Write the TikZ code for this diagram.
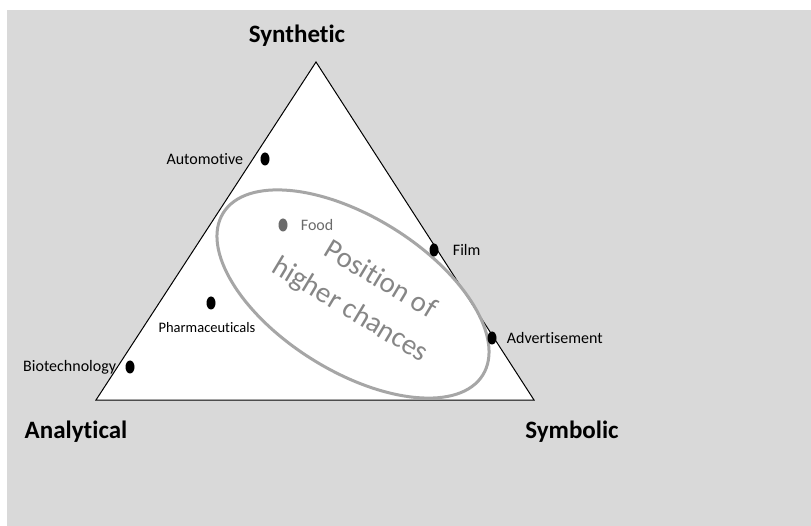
\documentclass[tikz,border=0pt]{standalone}
\usepackage{fontspec}
\setmainfont[Ligatures=NoCommon]{Carlito}
\usepackage{xcolor}
\usetikzlibrary{positioning,shapes.geometric}

\definecolor{bgGray}{HTML}{D9D9D9}
\definecolor{ringGray}{HTML}{A6A6A6}
\definecolor{zoneText}{HTML}{868686}
\definecolor{foodGray}{HTML}{6B6B6B}

\begin{document}
\begin{tikzpicture}[
  x=1pt, y=-1pt,
  corner/.style={font=\fontsize{25}{30}\selectfont\bfseries, inner sep=0pt},
  dot/.style={ellipse, fill=black, minimum width=9pt, minimum height=13pt, inner sep=0pt},
  lbl/.style={font=\fontsize{16}{19}\selectfont, inner sep=1pt},
  zonelbl/.style={font=\fontsize{29}{35}\selectfont, text=zoneText, rotate=-31, anchor=base, inner sep=0pt},
]
\useasboundingbox (0,0) rectangle (811,526);

% Background
\fill[bgGray] (7,10) rectangle (811,526);

% Triangle
\coordinate (top) at (316,62);
\coordinate (left) at (96,400);
\coordinate (right) at (534,400);
\draw[fill=white, line width=1pt] (top) -- (left) -- (right) -- cycle;

% Corner labels
\node[corner] (synth) at (297,36) {Synthetic};
\node[corner] (analyt) at (76,432) {Analytical};
\node[corner] (symb) at (572,432) {Symbolic};

% Ring of higher chances
\node[ellipse, draw=ringGray, line width=3pt, rotate=-32,
      minimum width=306pt, minimum height=154pt] (zone) at (353,294) {};
\node[zonelbl] (zonetop) at (376,287) {Position of};
\node[zonelbl] (zonebot) at (346,317) {higher chances};

% Industries
\node[dot] (auto) at (265,159) {};
\node[dot, fill=foodGray] (food) at (283,225) {};
\node[dot] (film) at (434,250) {};
\node[dot] (pharma) at (211,303) {};
\node[dot] (advert) at (492,338) {};
\node[dot] (biotech) at (130,367) {};

\node[lbl, left=16pt of auto] (autolbl) {Automotive};
\node[lbl, right=12pt of food, text=foodGray] (foodlbl) {Food};
\node[lbl, right=13pt of film] (filmlbl) {Film};
\node[lbl, font=\fontsize{14.5}{17}\selectfont, below=12pt of pharma, xshift=-4pt] (pharmalbl) {Pharmaceuticals};
\node[lbl, right=9pt of advert] (advertlbl) {Advertisement};
\node[lbl, left=8pt of biotech] (biotechlbl) {Biotechnology};
\end{tikzpicture}
\end{document}
